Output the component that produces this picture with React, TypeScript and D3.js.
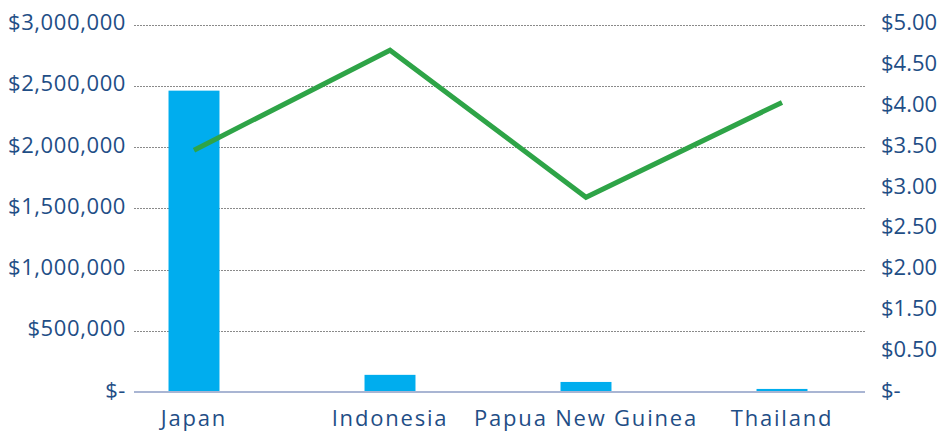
import React, { useEffect, useRef } from 'react';
import * as d3 from 'd3';

const countries = ['Japan', 'Indonesia', 'Papua New Guinea', 'Thailand'];
const totalValue = [2460000, 140000, 82000, 25000]; // bars, left axis
const unitPrice = [3.29, 4.65, 2.65, 3.94]; // line, right axis
const leftTicks = [0, 500000, 1000000, 1500000, 2000000, 2500000, 3000000];
const rightTickLabels = ['$-', '$0.50', '$1.50', '$2.00', '$2.50', '$3.00', '$3.50', '$4.00', '$4.50', '$5.00'];

const W = 941;
const H = 445;
const TEXT = '#1f4e86';
const FONT = '"Open Sans", "Liberation Sans", sans-serif';

export default function App() {
  const svgRef = useRef<SVGSVGElement>(null);

  useEffect(() => {
    if (!svgRef.current) return;
    const svg = d3.select(svgRef.current);
    svg.selectAll('*').remove();

    const plot = { left: 134, right: 865, top: 24.5, bottom: 392 };

    const x = d3.scaleBand<string>()
      .domain(countries)
      .range([96, 880])
      .paddingInner(0.74)
      .paddingOuter(0.37);

    const yLeft = d3.scaleLinear().domain([0, 3000000]).range([plot.bottom, plot.top]);
    const yRight = d3.scaleLinear().domain([0, 5]).range([plot.bottom, plot.top]);
    const yRightLabels = d3.scalePoint<string>().domain(rightTickLabels).range([plot.bottom, plot.top]);

    const fmtLeft = (v: number) => (v === 0 ? '$-' : '$' + d3.format(',')(v));

    // gridlines
    svg.append('g')
      .selectAll('line')
      .data(leftTicks.filter(t => t > 0))
      .join('line')
      .attr('x1', plot.left)
      .attr('x2', plot.right)
      .attr('y1', d => Math.round(yLeft(d)) + 0.5)
      .attr('y2', d => Math.round(yLeft(d)) + 0.5)
      .attr('stroke', '#8a8a8a')
      .attr('stroke-width', 1)
      .attr('stroke-dasharray', '2,1');

    // bars
    svg.append('g')
      .selectAll('rect')
      .data(countries)
      .join('rect')
      .attr('x', d => x(d)!)
      .attr('width', x.bandwidth())
      .attr('y', (_, i) => yLeft(totalValue[i]))
      .attr('height', (_, i) => plot.bottom - yLeft(totalValue[i]))
      .attr('fill', '#00adee');

    // baseline
    svg.append('line')
      .attr('x1', plot.left)
      .attr('x2', plot.right)
      .attr('y1', plot.bottom)
      .attr('y2', plot.bottom)
      .attr('stroke', '#a9b5d3')
      .attr('stroke-width', 2);

    // line series
    const line = d3.line<number>()
      .x((_, i) => x(countries[i])! + x.bandwidth() / 2)
      .y(d => yRight(d));

    svg.append('path')
      .datum(unitPrice)
      .attr('fill', 'none')
      .attr('stroke', '#2ea447')
      .attr('stroke-width', 5)
      .attr('stroke-linejoin', 'miter')
      .attr('d', line);

    // left axis labels
    svg.append('g')
      .selectAll('text')
      .data(leftTicks)
      .join('text')
      .attr('x', 126)
      .attr('y', d => yLeft(d) - 2)
      .attr('dy', '0.35em')
      .attr('text-anchor', 'end')
      .attr('font-family', FONT)
      .attr('font-size', 22)
      .attr('letter-spacing', 0.6)
      .attr('fill', TEXT)
      .text(fmtLeft);

    // right axis labels
    svg.append('g')
      .selectAll('text')
      .data(rightTickLabels)
      .join('text')
      .attr('x', 881)
      .attr('y', d => yRightLabels(d)! - 2)
      .attr('dy', '0.35em')
      .attr('text-anchor', 'start')
      .attr('font-family', FONT)
      .attr('font-size', 22)
      .attr('fill', TEXT)
      .text(d => d);

    // category labels
    svg.append('g')
      .selectAll('text')
      .data(countries)
      .join('text')
      .attr('x', d => x(d)! + x.bandwidth() / 2)
      .attr('y', 426)
      .attr('text-anchor', 'middle')
      .attr('font-family', FONT)
      .attr('font-size', 22)
      .attr('letter-spacing', 1.8)
      .attr('fill', TEXT)
      .text(d => d);
  }, []);

  return (
    <div style={{ position: 'fixed', left: 0, top: 0, background: '#fff' }}>
      <svg ref={svgRef} width={W} height={H} style={{ display: 'block' }}></svg>
    </div>
  );
}
